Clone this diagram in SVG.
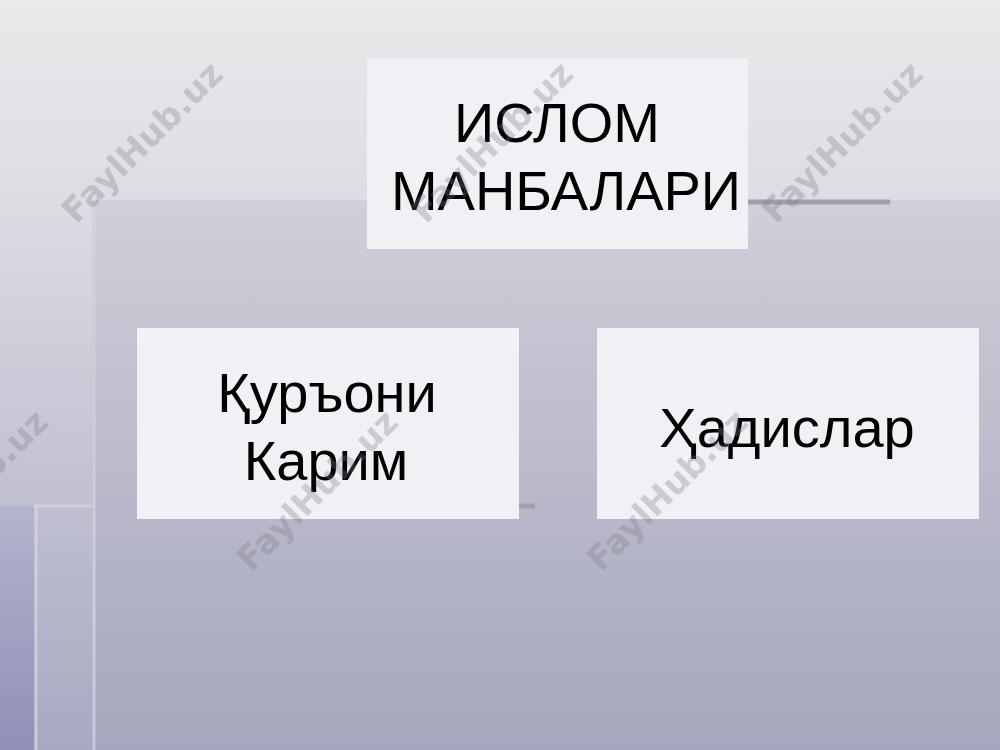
<svg xmlns="http://www.w3.org/2000/svg" width="1000" height="750" viewBox="0 0 1000 750">
  <defs>
    <linearGradient id="bg" x1="0" y1="0" x2="0" y2="1">
      <stop offset="0" stop-color="#eaeaec"/>
      <stop offset="0.27" stop-color="#dcdce3"/>
      <stop offset="1" stop-color="#a8a8c2"/>
    </linearGradient>
    <linearGradient id="panel" x1="0" y1="0" x2="0" y2="1">
      <stop offset="0" stop-color="#d0d0da"/>
      <stop offset="0.3" stop-color="#c2c2d0"/>
      <stop offset="1" stop-color="#a6a6be"/>
    </linearGradient>
    <linearGradient id="leftstrip" x1="0" y1="0" x2="0" y2="1">
      <stop offset="0" stop-color="#b4b4cc"/>
      <stop offset="1" stop-color="#9090b8"/>
    </linearGradient>
    <style>
      .box { fill: #f0f0f5; }
      .lbl { font-family: "Liberation Sans", Arial, sans-serif; font-size: 56px; fill: #000000; text-anchor: middle; }
      .wm { font-family: "DejaVu Sans", sans-serif; font-weight: bold; font-size: 34px; fill: #7c7c86; fill-opacity: 0.32; text-anchor: middle; }
      .lite { stroke: #d4d4e0; stroke-width: 3; stroke-opacity: 0.75; }
      .dark { stroke: #a0a0aa; stroke-width: 5; }
    </style>
  </defs>

  <g id="background">
    <rect x="0" y="0" width="1000" height="750" fill="url(#bg)"/>
    <rect x="92" y="200" width="908" height="550" fill="url(#panel)"/>
    <rect x="0" y="506" width="34" height="244" fill="url(#leftstrip)"/>
    <line class="lite" x1="94" y1="200" x2="94" y2="750"/>
    <line class="lite" x1="36" y1="506" x2="36" y2="750"/>
    <line class="lite" x1="34" y1="506" x2="92" y2="506" stroke-width="2" stroke-opacity="0.4"/>
    <line class="dark" x1="600" y1="202" x2="890" y2="202"/>
    <line class="dark" x1="400" y1="506" x2="535" y2="506"/>
  </g>

  <g id="connectors"></g>

  <g id="node-islom-manbalari">
    <rect class="box" x="367" y="58" width="381" height="191"/>
    <text class="lbl" x="557" y="142">ИСЛОМ</text>
    <text class="lbl" x="566" y="210">МАНБАЛАРИ</text>
  </g>

  <g id="node-quroni-karim">
    <rect class="box" x="137" y="328" width="382" height="191"/>
    <text class="lbl" x="327" y="412">Қуръони</text>
    <text class="lbl" x="326" y="480">Карим</text>
  </g>

  <g id="node-hadislar">
    <rect class="box" x="597" y="328" width="382" height="191"/>
    <text class="lbl" x="787" y="447">Ҳадислар</text>
  </g>

  <g id="watermarks">
    <text class="wm" transform="translate(142,142) rotate(-45)" y="12">FaylHub.uz</text>
    <text class="wm" transform="translate(492,142) rotate(-45)" y="12">FaylHub.uz</text>
    <text class="wm" transform="translate(842,142) rotate(-45)" y="12">FaylHub.uz</text>
    <text class="wm" transform="translate(-33,490) rotate(-45)" y="12">FaylHub.uz</text>
    <text class="wm" transform="translate(317,490) rotate(-45)" y="12">FaylHub.uz</text>
    <text class="wm" transform="translate(667,490) rotate(-45)" y="12">FaylHub.uz</text>
  </g>
</svg>
